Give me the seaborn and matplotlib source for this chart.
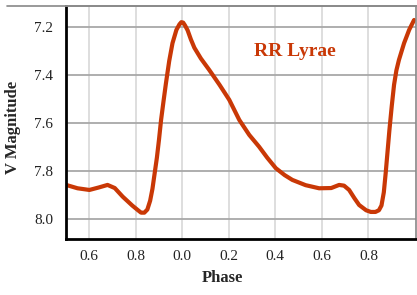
import matplotlib
matplotlib.use('Agg')
import matplotlib.pyplot as plt
from matplotlib.lines import Line2D
import pandas as pd
import seaborn as sns

# phase (unwrapped, -0.5 .. 1.0) and V magnitude
PHASE = [-0.499, -0.45, -0.399, -0.36, -0.321, -0.29, -0.256, -0.215, -0.190,
         -0.177, -0.163, -0.150, -0.138, -0.128, -0.120, -0.109, -0.100, -0.091,
         -0.080, -0.070, -0.056, -0.042, -0.025, -0.012, -0.004, 0.004, 0.012,
         0.023, 0.037, 0.052, 0.080, 0.116, 0.160, 0.202, 0.245, 0.288, 0.330,
         0.365, 0.402, 0.440, 0.473, 0.530, 0.588, 0.640, 0.674, 0.695, 0.717,
         0.740, 0.760, 0.790, 0.810, 0.830, 0.845, 0.856, 0.866, 0.874, 0.882,
         0.890, 0.900, 0.910, 0.920, 0.931, 0.953, 0.975, 0.996]
VMAG = [7.859, 7.873, 7.880, 7.870, 7.859, 7.872, 7.908, 7.945, 7.965,
        7.975, 7.975, 7.962, 7.925, 7.875, 7.820, 7.745, 7.670, 7.587,
        7.505, 7.433, 7.340, 7.266, 7.210, 7.187, 7.178, 7.180, 7.192,
        7.212, 7.250, 7.285, 7.330, 7.378, 7.440, 7.503, 7.587, 7.650, 7.699,
        7.745, 7.789, 7.818, 7.838, 7.860, 7.873, 7.872, 7.859, 7.862, 7.880,
        7.915, 7.943, 7.965, 7.972, 7.972, 7.965, 7.945, 7.890, 7.810, 7.720,
        7.630, 7.530, 7.440, 7.380, 7.336, 7.266, 7.210, 7.169]

X_TICKS = [-0.4, -0.2, 0.0, 0.2, 0.4, 0.6, 0.8]
X_TICK_LABELS = ['0.6', '0.8', '0.0', '0.2', '0.4', '0.6', '0.8']
Y_TICKS = [7.2, 7.4, 7.6, 7.8, 8.0]

RED = '#c93806'

sns.set_style('whitegrid')
plt.rcParams.update({
    'font.family': ['Liberation Serif', 'DejaVu Serif'],
})

df = pd.DataFrame({'Phase': PHASE, 'V Magnitude': VMAG})

fig = plt.figure(figsize=(4.17, 2.95), dpi=100)
ax = fig.add_axes([0.158, 0.190, 0.840, 0.790])

sns.lineplot(data=df, x='Phase', y='V Magnitude', sort=False, color=RED,
             linewidth=3.0, ax=ax)
ax.lines[0].set_solid_joinstyle('round')
ax.lines[0].set_solid_capstyle('round')

ax.set_xlim(-0.5, 1.005)
ax.set_ylim(8.085, 7.11)
ax.set_xticks(X_TICKS)
ax.set_xticklabels(X_TICK_LABELS)
ax.set_yticks(Y_TICKS)
ax.set_yticklabels(['{:.1f}'.format(v) for v in Y_TICKS])
ax.tick_params(axis='both', length=0, labelsize=11, colors='#222222')
ax.tick_params(axis='x', pad=8)
ax.tick_params(axis='y', pad=9)

ax.grid(axis='x', color='#d4d4d4', linewidth=1.1)
ax.grid(axis='y', color='#a8a8a8', linewidth=1.3)

for side in ['left', 'bottom']:
    ax.spines[side].set_color('black')
    ax.spines[side].set_linewidth(2.0)
for side in ['top', 'right']:
    ax.spines[side].set_color('#888888')
    ax.spines[side].set_linewidth(1.2)

# thin frame line running along the top of the figure
fig.add_artist(Line2D([7 / 417, 1.0], [0.980, 0.980], color='#888888',
                      linewidth=1.2, transform=fig.transFigure))

ax.set_xlabel('Phase', fontsize=12, fontweight='bold')
ax.xaxis.set_label_coords(0.446, -0.135)
ax.set_ylabel('V Magnitude', fontsize=12, fontweight='bold')
ax.yaxis.set_label_coords(-0.128, 0.48)

ax.text(0.485, 7.30, 'RR Lyrae', color=RED, fontsize=14, fontweight='bold',
        ha='center', va='center')

fig.savefig('out.png', dpi=100)
